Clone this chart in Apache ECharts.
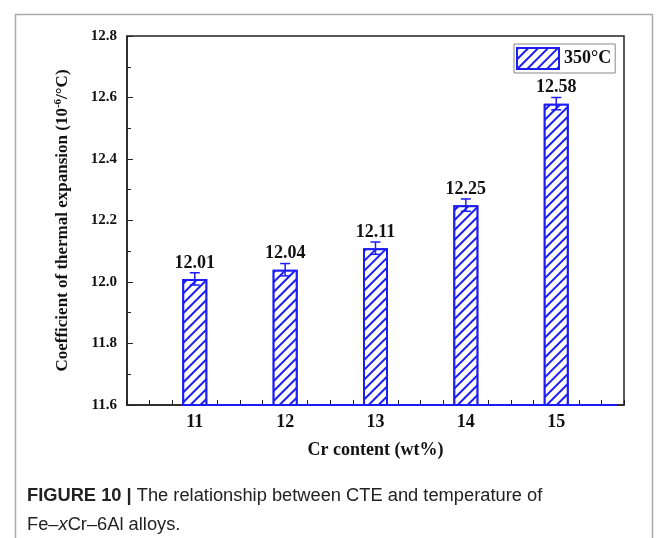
<!DOCTYPE html>
<html>
<head>
<meta charset="utf-8">
<script src="https://cdn.jsdelivr.net/npm/echarts@6/dist/echarts.min.js"></script>
<style>
html,body{margin:0;padding:0;background:#fff;}
#chart{width:663px;height:538px;}
</style>
</head>
<body>
<div id="chart"></div>
<script>
// ---- data ----
var categories = [11, 12, 13, 14, 15];
var cteValues = [12.01, 12.04, 12.11, 12.25, 12.58];
var cteErrors = [0.02, 0.02, 0.02, 0.02, 0.02];
var seriesName = '350\u00b0C';
var yTicks = [11.6, 11.8, 12.0, 12.2, 12.4, 12.6, 12.8];

var BLUE = '#1c1cf5';
var SERIF = '"Liberation Serif","Times New Roman",serif';
var SANS = '"Liberation Sans",Arial,sans-serif';

var barData = categories.map(function (c, i) { return [c, cteValues[i]]; });
var errData = categories.map(function (c, i) { return [c, cteValues[i], cteErrors[i]]; });
var yMin = yTicks[0], yMax = yTicks[yTicks.length - 1];

var chart = echarts.init(document.getElementById('chart'));
chart.setOption({
  backgroundColor: '#fff',
  animation: false,
  grid: { left: 127, right: 39, top: 36, bottom: 133, show: true, borderColor: '#222', borderWidth: 1.5, backgroundColor: 'transparent' },
  legend: {
    data: [{ name: seriesName, icon: 'rect' }],
    left: 514, top: 44,
    selectedMode: false,
    padding: [3, 4, 3, 2],
    itemWidth: 42, itemHeight: 21,
    itemGap: 4,
    borderColor: '#888', borderWidth: 1,
    textStyle: { fontFamily: SERIF, fontWeight: 'bold', fontSize: 18, color: '#111' }
  },
  xAxis: {
    type: 'value',
    min: 10.25, max: 15.75, interval: 0.25,
    name: 'Cr content (wt%)',
    nameLocation: 'middle', nameGap: 36,
    nameTextStyle: { fontFamily: SERIF, fontWeight: 'bold', fontSize: 18, color: '#111' },
    axisLine: { show: true, onZero: false, lineStyle: { color: '#222', width: 1.5 } },
    axisTick: { show: true, inside: true, length: 5, lineStyle: { color: '#222' } },
    axisLabel: {
      margin: 8, fontFamily: SERIF, fontWeight: 'bold', fontSize: 18, color: '#111',
      showMinLabel: true, showMaxLabel: true,
      formatter: function (v) { return categories.indexOf(v) >= 0 ? String(v) : ''; }
    },
    splitLine: { show: false }
  },
  yAxis: {
    type: 'value',
    min: yMin, max: yMax, interval: 0.2,
    name: '{t|Coefficient of thermal expansion (10}{s|-6}{t|/\u00b0C)}',
    nameLocation: 'middle', nameGap: 55,
    nameTextStyle: {
      rich: {
        t: { fontFamily: SERIF, fontWeight: 'bold', fontSize: 17, color: '#111' },
        s: { fontFamily: SERIF, fontWeight: 'bold', fontSize: 11, color: '#111', padding: [0, 0, 8, 0] }
      }
    },
    axisLine: { show: true, lineStyle: { color: '#222', width: 1.5 } },
    axisTick: { show: true, inside: true, length: 6, lineStyle: { color: '#222' } },
    minorTick: { show: true, splitNumber: 2, length: 4, lineStyle: { color: '#222' } },
    axisLabel: {
      margin: 10, fontFamily: SERIF, fontWeight: 'bold', fontSize: 15, color: '#111',
      formatter: function (v) { return v.toFixed(1); }
    },
    splitLine: { show: false }
  },
  series: [
    {
      name: seriesName,
      type: 'bar',
      data: barData,
      barWidth: 25,
      itemStyle: {
        color: '#fff',
        borderColor: BLUE,
        borderWidth: 2,
        decal: {
          symbol: 'rect',
          symbolSize: 1,
          color: BLUE,
          backgroundColor: '#fff',
          dashArrayX: [1, 0],
          dashArrayY: [1.4, 5],
          rotation: -Math.PI / 4
        }
      },
      label: {
        show: true, position: 'top', distance: 7,
        fontFamily: SERIF, fontWeight: 'bold', fontSize: 18, color: '#111',
        formatter: function (p) { return p.value[1].toFixed(2); }
      },
      markLine: {
        silent: true, symbol: 'none', label: { show: false },
        lineStyle: { color: BLUE, width: 2, type: 'solid' },
        data: [[{ coord: [categories[0] - 0.14, yMin] }, { coord: [categories[categories.length - 1] + 0.67, yMin] }]]
      },
      z: 2
    },
    {
      type: 'custom',
      name: 'err',
      data: errData,
      z: 5,
      renderItem: function (params, api) {
        var x = api.value(0), v = api.value(1), e = api.value(2);
        var top = api.coord([x, v + e]);
        var bot = api.coord([x, v - e]);
        var w = 5;
        var st = { stroke: BLUE, lineWidth: 1.5 };
        return {
          type: 'group',
          children: [
            { type: 'line', shape: { x1: top[0], y1: top[1], x2: bot[0], y2: bot[1] }, style: st },
            { type: 'line', shape: { x1: top[0] - w, y1: top[1], x2: top[0] + w, y2: top[1] }, style: st },
            { type: 'line', shape: { x1: bot[0] - w, y1: bot[1], x2: bot[0] + w, y2: bot[1] }, style: st }
          ]
        };
      }
    }
  ],
  graphic: [
    { type: 'rect', left: 13, top: 12, shape: { x: 0, y: 0, width: 637, height: 600 }, style: { fill: 'none', stroke: '#aaa', lineWidth: 1.5 }, silent: true },
    { type: 'text', left: 27, top: 487, style: { text: '{b|FIGURE 10 | }{n|The relationship between CTE and temperature of}', rich: {
      b: { fontFamily: SANS, fontWeight: 'bold', fontSize: 18.3, fill: '#222' },
      n: { fontFamily: SANS, fontSize: 18.3, fill: '#222' } } } },
    { type: 'text', left: 27, top: 516, style: { text: '{n|Fe\u2013}{i|x}{n|Cr\u20136Al alloys.}', rich: {
      n: { fontFamily: SANS, fontSize: 18.3, fill: '#222' },
      i: { fontFamily: SANS, fontSize: 18.3, fontStyle: 'italic', fill: '#222' } } } }
  ]
});
</script>
</body>
</html>
